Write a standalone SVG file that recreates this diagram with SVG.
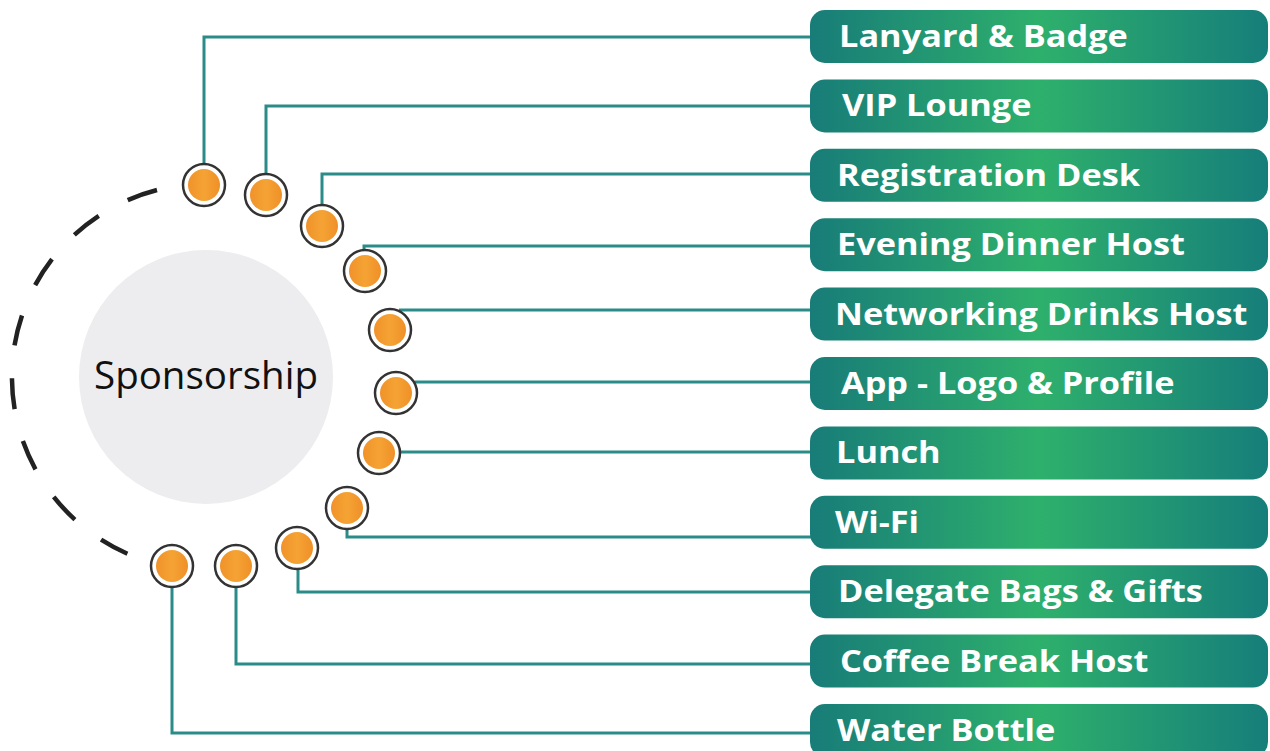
<svg xmlns="http://www.w3.org/2000/svg" width="1270" height="751" viewBox="0 0 1270 751">
<defs>
<linearGradient id="boxg" x1="0" y1="0" x2="1" y2="0">
<stop offset="0" stop-color="#187c78"/>
<stop offset="0.5" stop-color="#2eb06c"/>
<stop offset="1" stop-color="#167e7a"/>
</linearGradient>
<linearGradient id="dotg" x1="0" y1="0" x2="1" y2="0">
<stop offset="0" stop-color="#f0922a"/>
<stop offset="0.5" stop-color="#f5a334"/>
<stop offset="1" stop-color="#ef9028"/>
</linearGradient>
<style>
.box{fill:url(#boxg)}
.lbl{font-family:"Open Sans","Liberation Sans",sans-serif;font-weight:700;font-size:31px;fill:#ffffff}
.conn{fill:none;stroke:#2a8c88;stroke-width:3}
.ring{fill:#ffffff;stroke:#333333;stroke-width:2.5}
.dot{fill:url(#dotg)}
</style>
</defs>
<rect width="1270" height="751" fill="#ffffff"/>
<g id="center">
<circle cx="206" cy="377" r="127" fill="#ededef"/>
<path d="M 157 190 A 193 193 0 0 0 127.4 553.7" fill="none" stroke="#222222" stroke-width="4.5" stroke-dasharray="31 33"/>
<text x="206" y="389" text-anchor="middle" font-family="'Open Sans','Liberation Sans',sans-serif" font-size="38.5" fill="#111111">Sponsorship</text>
</g>
<g id="connectors">
<path class="conn" d="M 204 163 V 37 H 812"/>
<path class="conn" d="M 266 174 V 106 H 812"/>
<path class="conn" d="M 322 205 V 174 H 812"/>
<path class="conn" d="M 364 250 V 246 H 812"/>
<path class="conn" d="M 399 310 H 812"/>
<path class="conn" d="M 415 382 H 812"/>
<path class="conn" d="M 400 452 H 812"/>
<path class="conn" d="M 347 530 V 537 H 812"/>
<path class="conn" d="M 298 570 V 592 H 812"/>
<path class="conn" d="M 236 588 V 664 H 812"/>
<path class="conn" d="M 172 588 V 733 H 812"/>
</g>
<g id="dot1"><circle class="ring" cx="204" cy="185" r="21"/><circle class="dot" cx="204" cy="185" r="16"/></g>
<g id="dot2"><circle class="ring" cx="266" cy="195" r="21"/><circle class="dot" cx="266" cy="195" r="16"/></g>
<g id="dot3"><circle class="ring" cx="322" cy="226" r="21"/><circle class="dot" cx="322" cy="226" r="16"/></g>
<g id="dot4"><circle class="ring" cx="365" cy="271" r="21"/><circle class="dot" cx="365" cy="271" r="16"/></g>
<g id="dot5"><circle class="ring" cx="390" cy="330" r="21"/><circle class="dot" cx="390" cy="330" r="16"/></g>
<g id="dot6"><circle class="ring" cx="396" cy="393" r="21"/><circle class="dot" cx="396" cy="393" r="16"/></g>
<g id="dot7"><circle class="ring" cx="379" cy="453" r="21"/><circle class="dot" cx="379" cy="453" r="16"/></g>
<g id="dot8"><circle class="ring" cx="347" cy="508" r="21"/><circle class="dot" cx="347" cy="508" r="16"/></g>
<g id="dot9"><circle class="ring" cx="297" cy="548" r="21"/><circle class="dot" cx="297" cy="548" r="16"/></g>
<g id="dot10"><circle class="ring" cx="236" cy="566" r="21"/><circle class="dot" cx="236" cy="566" r="16"/></g>
<g id="dot11"><circle class="ring" cx="172" cy="566" r="21"/><circle class="dot" cx="172" cy="566" r="16"/></g>
<g id="item1"><rect class="box" x="810" y="10" width="458" height="53" rx="15"/><text class="lbl" transform="translate(839 47) scale(1.107 1)">Lanyard &amp; Badge</text></g>
<g id="item2"><rect class="box" x="810" y="79.4" width="458" height="53" rx="15"/><text class="lbl" transform="translate(842 116.4) scale(1.107 1)">VIP Lounge</text></g>
<g id="item3"><rect class="box" x="810" y="148.8" width="458" height="53" rx="15"/><text class="lbl" transform="translate(837 185.8) scale(1.107 1)">Registration Desk</text></g>
<g id="item4"><rect class="box" x="810" y="218.2" width="458" height="53" rx="15"/><text class="lbl" transform="translate(837 255.2) scale(1.107 1)">Evening Dinner Host</text></g>
<g id="item5"><rect class="box" x="810" y="287.6" width="458" height="53" rx="15"/><text class="lbl" transform="translate(835 324.6) scale(1.107 1)">Networking Drinks Host</text></g>
<g id="item6"><rect class="box" x="810" y="357" width="458" height="53" rx="15"/><text class="lbl" transform="translate(841 394) scale(1.107 1)">App - Logo &amp; Profile</text></g>
<g id="item7"><rect class="box" x="810" y="426.4" width="458" height="53" rx="15"/><text class="lbl" transform="translate(836 463.4) scale(1.107 1)">Lunch</text></g>
<g id="item8"><rect class="box" x="810" y="495.8" width="458" height="53" rx="15"/><text class="lbl" transform="translate(835 532.8) scale(1.107 1)">Wi-Fi</text></g>
<g id="item9"><rect class="box" x="810" y="565.2" width="458" height="53" rx="15"/><text class="lbl" transform="translate(838 602.2) scale(1.107 1)">Delegate Bags &amp; Gifts</text></g>
<g id="item10"><rect class="box" x="810" y="634.6" width="458" height="53" rx="15"/><text class="lbl" transform="translate(840 671.6) scale(1.107 1)">Coffee Break Host</text></g>
<g id="item11"><rect class="box" x="810" y="704" width="458" height="53" rx="15"/><text class="lbl" transform="translate(837 741) scale(1.107 1)">Water Bottle</text></g>
</svg>
